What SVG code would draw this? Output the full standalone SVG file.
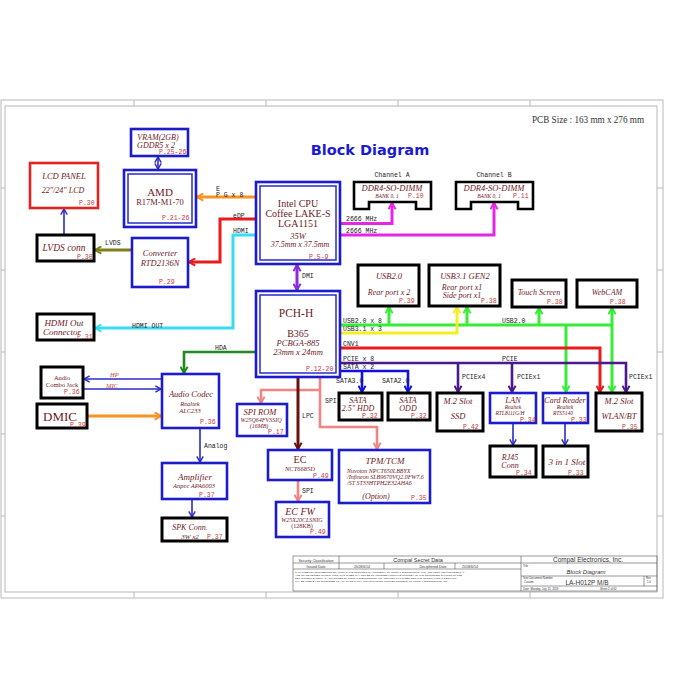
<svg xmlns="http://www.w3.org/2000/svg" width="700" height="700" viewBox="0 0 700 700">
<style>
.bb{fill:#fff;stroke:#1c1cc8;stroke-width:2.6}
.bi{fill:none;stroke:#1c1cc8;stroke-width:1.4}
.kb{fill:#fff;stroke:#000;stroke-width:3}
.t{font-family:"Liberation Serif",serif;fill:#6e1a26;text-anchor:middle}
.ts{font-family:"Liberation Serif",serif;fill:#6e1a26;text-anchor:start}
.i{font-style:italic}
.p{font-family:"Liberation Mono",monospace;font-size:6.5px;fill:#c8383a}
.l{font-family:"Liberation Mono",monospace;font-size:6.5px;fill:#222}
.ln{fill:none}
.fr{fill:none;stroke:#b8b8b8;stroke-width:1}
.tb{fill:none;stroke:#555;stroke-width:0.6}
.tt{font-family:"Liberation Sans",sans-serif;fill:#333}
</style>
<defs>
<marker id="a-or" viewBox="0 0 10 10" refX="8" refY="5" markerWidth="9" markerHeight="9" markerUnits="userSpaceOnUse" orient="auto-start-reverse"><path d="M1,1 L8,5 L1,9" fill="none" stroke="#f7931e" stroke-width="2.2"/></marker>
<marker id="a-red" viewBox="0 0 10 10" refX="8" refY="5" markerWidth="9" markerHeight="9" markerUnits="userSpaceOnUse" orient="auto-start-reverse"><path d="M1,1 L8,5 L1,9" fill="none" stroke="#e81c1c" stroke-width="2.2"/></marker>
<marker id="a-cy" viewBox="0 0 10 10" refX="8" refY="5" markerWidth="9" markerHeight="9" markerUnits="userSpaceOnUse" orient="auto-start-reverse"><path d="M1,1 L8,5 L1,9" fill="none" stroke="#38dcf0" stroke-width="2.2"/></marker>
<marker id="a-ol" viewBox="0 0 10 10" refX="8" refY="5" markerWidth="9" markerHeight="9" markerUnits="userSpaceOnUse" orient="auto-start-reverse"><path d="M1,1 L8,5 L1,9" fill="none" stroke="#7f7f1a" stroke-width="2.2"/></marker>
<marker id="a-bl" viewBox="0 0 10 10" refX="8" refY="5" markerWidth="8" markerHeight="8" markerUnits="userSpaceOnUse" orient="auto-start-reverse"><path d="M1,1 L8,5 L1,9" fill="none" stroke="#2b2bc4" stroke-width="1.8"/></marker>
<marker id="a-mg" viewBox="0 0 10 10" refX="8" refY="5" markerWidth="9" markerHeight="9" markerUnits="userSpaceOnUse" orient="auto-start-reverse"><path d="M1,1 L8,5 L1,9" fill="none" stroke="#e626e6" stroke-width="2.2"/></marker>
<marker id="a-pu" viewBox="0 0 10 10" refX="8" refY="5" markerWidth="9" markerHeight="9" markerUnits="userSpaceOnUse" orient="auto-start-reverse"><path d="M1,1 L8,5 L1,9" fill="none" stroke="#8a2be2" stroke-width="2.2"/></marker>
<marker id="a-gr" viewBox="0 0 10 10" refX="8" refY="5" markerWidth="9" markerHeight="9" markerUnits="userSpaceOnUse" orient="auto-start-reverse"><path d="M1,1 L8,5 L1,9" fill="none" stroke="#36ec36" stroke-width="2.2"/></marker>
<marker id="a-ye" viewBox="0 0 10 10" refX="8" refY="5" markerWidth="9" markerHeight="9" markerUnits="userSpaceOnUse" orient="auto-start-reverse"><path d="M1,1 L8,5 L1,9" fill="none" stroke="#f2f022" stroke-width="2.2"/></marker>
<marker id="a-in" viewBox="0 0 10 10" refX="8" refY="5" markerWidth="9" markerHeight="9" markerUnits="userSpaceOnUse" orient="auto-start-reverse"><path d="M1,1 L8,5 L1,9" fill="none" stroke="#4a1a8e" stroke-width="2.2"/></marker>
<marker id="a-sa" viewBox="0 0 10 10" refX="8" refY="5" markerWidth="9" markerHeight="9" markerUnits="userSpaceOnUse" orient="auto-start-reverse"><path d="M1,1 L8,5 L1,9" fill="none" stroke="#1212e0" stroke-width="2.2"/></marker>
<marker id="a-dg" viewBox="0 0 10 10" refX="8" refY="5" markerWidth="9" markerHeight="9" markerUnits="userSpaceOnUse" orient="auto-start-reverse"><path d="M1,1 L8,5 L1,9" fill="none" stroke="#1e8a1e" stroke-width="2.2"/></marker>
<marker id="a-pk" viewBox="0 0 10 10" refX="8" refY="5" markerWidth="9" markerHeight="9" markerUnits="userSpaceOnUse" orient="auto-start-reverse"><path d="M1,1 L8,5 L1,9" fill="none" stroke="#f28484" stroke-width="2.2"/></marker>
<marker id="a-mr" viewBox="0 0 10 10" refX="8" refY="5" markerWidth="9" markerHeight="9" markerUnits="userSpaceOnUse" orient="auto-start-reverse"><path d="M1,1 L8,5 L1,9" fill="none" stroke="#6a1010" stroke-width="2.2"/></marker>
</defs>
<rect width="700" height="700" fill="#fff"/>

<!-- frame -->
<g id="frame">
<rect class="fr" x="1" y="100" width="662" height="498"/>
<rect class="fr" x="5" y="106" width="652" height="486"/>
<path class="fr" d="M134,100V106 M266,100V106 M398,100V106 M530,100V106 M134,592V598 M266,592V598 M398,592V598 M530,592V598 M1,188H5 M1,270H5 M1,352H5 M1,434H5 M1,516H5 M657,188H663 M657,270H663 M657,352H663 M657,434H663 M657,516H663"/>
</g>

<text x="370" y="155" font-family="DejaVu Sans,sans-serif" font-weight="bold" font-size="14.5" fill="#1a1ad2" text-anchor="middle">Block Diagram</text>
<text x="532" y="123" font-family="Liberation Serif,serif" font-size="10.5" fill="#333" textLength="112" lengthAdjust="spacingAndGlyphs">PCB Size : 163 mm x 276 mm</text>

<!-- connectors -->
<g id="connectors" class="ln">
<path d="M256,197H197" stroke="#f7931e" stroke-width="3" marker-end="url(#a-or)"/>
<path d="M256,219H220V262H189" stroke="#e81c1c" stroke-width="3" marker-end="url(#a-red)"/>
<path d="M256,235H233V328H95" stroke="#38dcf0" stroke-width="3" marker-end="url(#a-cy)"/>
<path d="M132,250H95" stroke="#7f7f1a" stroke-width="3" marker-end="url(#a-ol)"/>
<path d="M64,235V209" stroke="#2b2bc4" stroke-width="1.6" marker-end="url(#a-bl)"/>
<path d="M158,157V169" stroke="#2b2bc4" stroke-width="1.6" marker-start="url(#a-bl)" marker-end="url(#a-bl)"/>
<path d="M340,223.5H392V203" stroke="#e626e6" stroke-width="3" marker-end="url(#a-mg)"/>
<path d="M340,235H494V203" stroke="#e626e6" stroke-width="3" marker-end="url(#a-mg)"/>
<path d="M297,265V290" stroke="#8a2be2" stroke-width="3" marker-start="url(#a-pu)" marker-end="url(#a-pu)"/>
<path d="M340,325H612" stroke="#36ec36" stroke-width="3"/>
<path d="M389,325V307" stroke="#36ec36" stroke-width="3" marker-end="url(#a-gr)"/>
<path d="M467,325V307" stroke="#36ec36" stroke-width="3" marker-end="url(#a-gr)"/>
<path d="M539,325V308" stroke="#36ec36" stroke-width="3" marker-end="url(#a-gr)"/>
<path d="M612,325V308" stroke="#36ec36" stroke-width="3" marker-end="url(#a-gr)"/>
<path d="M612,325V392" stroke="#36ec36" stroke-width="3" marker-end="url(#a-gr)"/>
<path d="M566,325V392" stroke="#36ec36" stroke-width="3" marker-end="url(#a-gr)"/>
<path d="M340,333H457V307" stroke="#f2f022" stroke-width="3" marker-end="url(#a-ye)"/>
<path d="M340,348H600V392" stroke="#e81c1c" stroke-width="3" marker-end="url(#a-red)"/>
<path d="M340,363H626V392" stroke="#4a1a8e" stroke-width="2.6" marker-end="url(#a-in)"/>
<path d="M458,363V392" stroke="#4a1a8e" stroke-width="2.6" marker-end="url(#a-in)"/>
<path d="M512,363V392" stroke="#4a1a8e" stroke-width="2.6" marker-end="url(#a-in)"/>
<path d="M340,371H408V392" stroke="#1212e0" stroke-width="2.6" marker-end="url(#a-sa)"/>
<path d="M362,371V392" stroke="#1212e0" stroke-width="2.6" marker-end="url(#a-sa)"/>
<path d="M256,352H184V373" stroke="#1e8a1e" stroke-width="2.6" marker-end="url(#a-dg)"/>
<path d="M162,379H84" stroke="#2b2bc4" stroke-width="1.6" marker-end="url(#a-bl)"/>
<path d="M84,389H161" stroke="#2b2bc4" stroke-width="1.6" marker-end="url(#a-bl)"/>
<path d="M88,416H161" stroke="#f7931e" stroke-width="3" marker-end="url(#a-or)"/>
<path d="M200,428V462" stroke="#2b2bc4" stroke-width="1.6" marker-end="url(#a-bl)"/>
<path d="M192,499V517" stroke="#2b2bc4" stroke-width="1.6" marker-end="url(#a-bl)"/>
<path d="M320,377V427H377V449" stroke="#f28484" stroke-width="2.6" marker-end="url(#a-pk)"/>
<path d="M320,390H261V403" stroke="#f28484" stroke-width="2.6" marker-end="url(#a-pk)"/>
<path d="M298,377V449" stroke="#6a1010" stroke-width="3" marker-end="url(#a-mr)"/>
<path d="M298,480V501" stroke="#f28484" stroke-width="2.6" marker-end="url(#a-pk)"/>
<path d="M513,423V445" stroke="#2b2bc4" stroke-width="1.6" marker-end="url(#a-bl)"/>
<path d="M565,423V445" stroke="#2b2bc4" stroke-width="1.6" marker-end="url(#a-bl)"/>
</g>

<!-- connector labels -->
<g id="labels">
<text class="l" x="216" y="196.5">P G x 8</text>
<text class="l" x="216" y="191" font-size="5">E</text>
<text class="l" x="233" y="217.5">eDP</text>
<text class="l" x="233" y="232.5">HDMI</text>
<text class="l" x="105" y="244.5">LVDS</text>
<text class="l" x="346" y="220.5">2666 MHz</text>
<text class="l" x="346" y="232.5">2666 MHz</text>
<text class="l" x="302" y="278">DMI</text>
<text class="l" x="343" y="323">USB2.0 x 8</text>
<text class="l" x="343" y="331">USB3.1 x 3</text>
<text class="l" x="343" y="346">CNV1</text>
<text class="l" x="343" y="360.5">PCIE x 8</text>
<text class="l" x="343" y="368.5">SATA x 2</text>
<text class="l" x="336" y="383" font-size="5.5">SATA3.0</text>
<text class="l" x="382" y="383" font-size="5.5">SATA2.0</text>
<text class="l" x="502" y="323">USB2.0</text>
<text class="l" x="502" y="361">PCIE</text>
<text class="l" x="462" y="378.5" font-size="5.5" fill="#c04848">PCIEx4</text>
<text class="l" x="517" y="378.5" font-size="5.5">PCIEx1</text>
<text class="l" x="629" y="378.5" font-size="5.5">PCIEx1</text>
<text class="l" x="132" y="327.5">HDMI  OUT</text>
<text class="l" x="215" y="349.5">HDA</text>
<text x="110" y="376.5" font-family="Liberation Serif,serif" font-style="italic" font-size="6.5" fill="#d04040">HP</text>
<text x="106" y="387.5" font-family="Liberation Serif,serif" font-style="italic" font-size="6.5" fill="#d04040">MIC</text>
<text class="l" x="204" y="447.5">Analog</text>
<text class="l" x="325" y="402.5">SPI</text>
<text class="l" x="302" y="417.5">LPC</text>
<text class="l" x="302" y="493">SPI</text>
<text class="l" x="392" y="176.5" text-anchor="middle" font-size="7">Channel A</text>
<text class="l" x="494" y="176.5" text-anchor="middle" font-size="7">Channel B</text>
</g>

<!-- nodes -->
<g id="vram"><rect class="bb" x="131" y="129" width="57" height="27"/>
<text class="t i" x="158" y="140" font-size="8">VRAM(2GB)</text><text class="t i" x="156" y="147.5" font-size="8">GDDR5 x 2</text><text class="p" x="159" y="153.5">P.25-26</text></g>

<g id="amd"><rect class="bb" x="124" y="170" width="72" height="57"/><rect class="bi" x="128" y="174" width="64" height="49"/>
<text class="t" x="160" y="195.5" font-size="11">AMD</text><text class="t" x="160" y="204.5" font-size="8.5">R17M-M1-70</text><text class="p" x="162" y="220">P.21-26</text></g>

<g id="lcd"><rect x="30" y="163" width="68" height="45" fill="#fff" stroke="#e32222" stroke-width="2.6"/>
<text class="t i" x="64" y="178.5" font-size="8.5">LCD  PANEL</text><text class="t i" x="63" y="192.5" font-size="8">22"/24" LCD</text><text class="p" x="79" y="205">P.30</text></g>

<g id="lvds"><rect class="kb" x="37" y="235" width="57" height="26"/>
<text class="t i" x="64" y="250.5" font-size="9.5">LVDS conn</text><text class="p" x="77" y="259">P.30</text></g>

<g id="converter"><rect class="bb" x="132" y="238" width="56" height="49"/>
<text class="t i" x="160" y="256" font-size="8.5">Converter</text><text class="t i" x="160" y="265.5" font-size="8.5">RTD2136N</text><text class="p" x="159" y="284">P.29</text></g>

<g id="cpu"><rect class="bb" x="256" y="182" width="84" height="82"/><rect class="bi" x="260" y="186" width="76" height="74"/>
<text class="t" x="298" y="206.5" font-size="10">Intel CPU</text><text class="t" x="298" y="216.5" font-size="10">Coffee LAKE-S</text><text class="t" x="298" y="226.5" font-size="10">LGA1151</text>
<text class="t i" x="298" y="238.5" font-size="8.5">35W</text><text class="t i" x="300" y="246.5" font-size="8">37.5mm x 37.5mm</text><text class="p" x="309" y="259">P.5-9</text></g>

<g id="ddr-a"><path d="M354,182H431V209H416V202H369V209H354Z" fill="#fff" stroke="#000" stroke-width="2.6"/>
<text class="t i" x="392" y="190.5" font-size="8.5">DDR4-SO-DIMM</text><text class="t i" x="387" y="198" font-size="5.5">BANK 0, 1</text><text class="p" x="408" y="198">P.10</text></g>

<g id="ddr-b"><path d="M456,182H533V209H518V202H471V209H456Z" fill="#fff" stroke="#000" stroke-width="2.6"/>
<text class="t i" x="494" y="190.5" font-size="8.5">DDR4-SO-DIMM</text><text class="t i" x="489" y="198" font-size="5.5">BANK 0, 1</text><text class="p" x="513" y="198">P.11</text></g>

<g id="pch"><rect class="bb" x="256" y="291" width="84" height="86"/><rect class="bi" x="260" y="295" width="76" height="78"/>
<text class="t" x="296" y="317" font-size="11.5">PCH-H</text><text class="t" x="298" y="337" font-size="10">B365</text>
<text class="t i" x="298" y="345.5" font-size="8.5">PCBGA-885</text><text class="t i" x="298" y="354.5" font-size="8.5">23mm x 24mm</text><text class="p" x="306" y="371">P.12-20</text></g>

<g id="usb20"><rect class="kb" x="358" y="265" width="61" height="41"/>
<text class="t i" x="389" y="279" font-size="8.5">USB2.0</text><text class="t i" x="389" y="294.5" font-size="8">Rear port  x 2</text><text class="p" x="399" y="303">P.39</text></g>

<g id="usb31"><rect class="kb" x="429" y="265" width="71" height="41"/>
<text class="t i" x="465" y="279" font-size="8.5">USB3.1  GEN2</text><text class="t i" x="462" y="290" font-size="8">Rear port x1</text><text class="t i" x="462" y="297.5" font-size="8">Side port x1</text><text class="p" x="481" y="303">P.38</text></g>

<g id="touch"><rect class="kb" x="512" y="280" width="54" height="27"/>
<text class="t i" x="539" y="294.5" font-size="8">Touch Screen</text><text class="p" x="547" y="304">P.38</text></g>

<g id="webcam"><rect class="kb" x="577" y="280" width="60" height="27"/>
<text class="t i" x="607" y="294.5" font-size="8">WebCAM</text><text class="p" x="610" y="304">P.38</text></g>

<g id="hdmi-out"><rect class="kb" x="37" y="314" width="57" height="26"/>
<text class="t i" x="64" y="326" font-size="9">HDMI Out</text><text class="t i" x="62" y="334.5" font-size="9">Connector</text><text class="p" x="77" y="339">P.31</text></g>

<g id="audio-jack"><rect class="kb" x="41" y="367" width="42" height="31"/>
<text class="t" x="62" y="380" font-size="6.5">Audio</text><text class="t" x="62" y="386.5" font-size="6.5">Combo  Jack</text><text class="p" x="64" y="394">P.36</text></g>

<g id="dmic"><rect class="kb" x="37" y="404" width="50" height="24"/>
<text class="t" x="60" y="420.5" font-size="13">DMIC</text><text class="p" x="70" y="427">P.39</text></g>

<g id="codec"><rect class="bb" x="162" y="374" width="57" height="54"/>
<text class="t i" x="191" y="397" font-size="8.5">Audio Codec</text><text class="t i" x="190" y="406" font-size="6.5">Realtek</text><text class="t i" x="190" y="412.5" font-size="6.5">ALC233</text><text class="p" x="200" y="424">P.36</text></g>

<g id="amp"><rect class="bb" x="162" y="463" width="65" height="36"/>
<text class="t i" x="195" y="479.5" font-size="9">Amplifier</text><text class="t i" x="194" y="488" font-size="6.5">Anpec APA6003</text><text class="p" x="199" y="497">P.37</text></g>

<g id="spk"><rect class="kb" x="162" y="518" width="65" height="23"/>
<text class="t i" x="190" y="529.5" font-size="8">SPK Conn.</text><text class="t i" x="190" y="539" font-size="7">3W x2</text><text class="p" x="207" y="539">P.37</text></g>

<g id="spirom"><rect class="bb" x="237" y="404" width="50" height="32"/>
<text class="t i" x="260" y="414.5" font-size="8.5">SPI  ROM</text><text class="t i" x="261" y="421.5" font-size="6">W25Q64FVSSIQ</text><text class="t i" x="259" y="427.5" font-size="6">(16MB)</text><text class="p" x="268" y="433.5">P.17</text></g>

<g id="ec"><rect class="bb" x="268" y="450" width="64" height="30"/>
<text class="t" x="300" y="463" font-size="10">EC</text><text class="t i" x="300" y="471" font-size="6.5">NCT6685D</text><text class="p" x="313" y="478">P.49</text></g>

<g id="ecfw"><rect class="bb" x="276" y="502" width="53" height="35"/>
<text class="t i" x="300" y="514.5" font-size="10">EC FW</text><text class="t i" x="302" y="521.5" font-size="6">W25X20CLSNIG</text><text class="t" x="302" y="527.5" font-size="6">(128KB)</text><text class="p" x="310" y="534">P.49</text></g>

<g id="tpm"><rect class="bb" x="339" y="450" width="91" height="53"/>
<text class="t i" x="385" y="464" font-size="9">TPM/TCM</text>
<text class="ts i" x="347" y="473" font-size="6">Nuvoton  NPCT650LBBYX</text>
<text class="ts i" x="347" y="479" font-size="6">/Infineon  SLB9670VQ2.0FW7.6</text>
<text class="ts i" x="347" y="485" font-size="6">/ST  ST33HTPH2E32AHA6</text>
<text class="t i" x="376" y="498.5" font-size="8">(Option)</text><text class="p" x="411" y="499.5">P.35</text></g>

<g id="hdd"><rect class="kb" x="339" y="393" width="43" height="27"/>
<text class="t i" x="358" y="402.5" font-size="8">SATA</text><text class="t i" x="358" y="410.5" font-size="8">2.5" HDD</text><text class="p" x="362" y="418">P.32</text></g>

<g id="odd"><rect class="kb" x="388" y="393" width="42" height="27"/>
<text class="t i" x="408" y="402.5" font-size="8">SATA</text><text class="t i" x="408" y="410.5" font-size="8">ODD</text><text class="p" x="411" y="418">P.32</text></g>

<g id="ssd"><rect class="kb" x="437" y="393" width="46" height="38"/>
<text class="t i" x="458" y="404" font-size="8.5">M.2 Slot</text><text class="t i" x="458" y="419" font-size="8.5">SSD</text><text class="p" x="463" y="429">P.42</text></g>

<g id="lan"><rect class="bb" x="490" y="393" width="46" height="30"/>
<text class="t i" x="513" y="403" font-size="8.5">LAN</text><text class="t i" x="513" y="409" font-size="5.5">Realtek</text><text class="t i" x="510" y="414.5" font-size="5.5">RTL8111G/H</text><text class="p" x="520" y="421.5">P.34</text></g>

<g id="cardreader"><rect class="bb" x="543" y="393" width="45" height="30"/>
<text class="t i" x="565" y="403" font-size="8">Card Reader</text><text class="t i" x="565" y="409" font-size="5.5">Realtek</text><text class="t i" x="563" y="414.5" font-size="5.5">RTS5140</text><text class="p" x="571" y="421.5">P.33</text></g>

<g id="wlan"><rect class="kb" x="596" y="393" width="46" height="38"/>
<text class="t i" x="619" y="404" font-size="8.5">M.2 Slot</text><text class="t i" x="619" y="419" font-size="8.5">WLAN/BT</text><text class="p" x="622" y="429">P.35</text></g>

<g id="rj45"><rect class="kb" x="490" y="446" width="46" height="31"/>
<text class="t i" x="510" y="459.5" font-size="8">RJ45</text><text class="t i" x="510" y="467.5" font-size="8">Conn</text><text class="p" x="516" y="474.5">P.34</text></g>

<g id="slot3in1"><rect class="kb" x="543" y="446" width="45" height="31"/>
<text class="t i" x="567" y="465" font-size="9">3 in 1 Slot</text><text class="p" x="568" y="474.5">P.33</text></g>

<!-- title block -->
<g id="titleblock">
<rect class="tb" x="293" y="556" width="364" height="35"/>
<path class="tb" d="M293,563H521 M293,569H521 M339,556V569 M384,563V569 M455,563V569 M521,556V591 M521,563H657 M521,576H657 M521,586H657 M644,576V586"/>
<text class="tt" x="316" y="561.5" font-size="3.6" text-anchor="middle">Security Classification</text>
<text class="tt" x="418" y="561.8" font-size="5.5" text-anchor="middle">Compal Secret Data</text>
<text class="tt" x="316" y="567.5" font-size="3.6" text-anchor="middle">Issued Date</text>
<text class="tt" x="362" y="567.5" font-size="3.6" text-anchor="middle">2018/6/14</text>
<text class="tt" x="433" y="567.5" font-size="3.6" text-anchor="middle">Deciphered Date</text>
<text class="tt" x="470" y="567.5" font-size="3.6" text-anchor="middle">2018/6/14</text>
<text class="tt" x="295" y="573" font-size="2.5">THIS SHEET OF ENGINEERING DRAWING IS THE PROPRIETARY PROPERTY OF COMPAL ELECTRONICS, INC. AND CONTAINS CONFIDENTIAL</text>
<text class="tt" x="295" y="576" font-size="2.5">AND TRADE SECRET INFORMATION. THIS SHEET MAY NOT BE TRANSFERED FROM THE CUSTODY OF THE COMPETENT DIVISION OF R&amp;D</text>
<text class="tt" x="295" y="579" font-size="2.5">DEPARTMENT EXCEPT AS AUTHORIZED BY COMPAL ELECTRONICS, INC. NEITHER THIS SHEET NOR THE INFORMATION IT CONTAINS</text>
<text class="tt" x="295" y="582" font-size="2.5">MAY BE USED BY OR DISCLOSED TO ANY THIRD PARTY WITHOUT PRIOR WRITTEN CONSENT OF COMPAL ELECTRONICS, INC.</text>
<text class="tt" x="588" y="561.5" font-size="6.5" text-anchor="middle">Compal Electronics, Inc.</text>
<text class="tt" x="523" y="567" font-size="2.8">Title</text>
<text class="tt" x="586" y="574" font-size="6" font-style="italic" text-anchor="middle">Block Diagram</text>
<text class="tt" x="523" y="579" font-size="2.8">Size   Document  Number</text>
<text class="tt" x="524" y="583" font-size="2.8">Custom</text>
<text class="tt" x="587" y="584.5" font-size="6.5" text-anchor="middle">LA-H012P M/B</text>
<text class="tt" x="646" y="579" font-size="2.8">Rev</text>
<text class="tt" x="647" y="583" font-size="2.8">1.0</text>
<text class="tt" x="523" y="589.5" font-size="2.8">Date:       Monday, July 15, 2019</text>
<text class="tt" x="600" y="589.5" font-size="2.8">Sheet      2      of      62</text>
</g>
</svg>
